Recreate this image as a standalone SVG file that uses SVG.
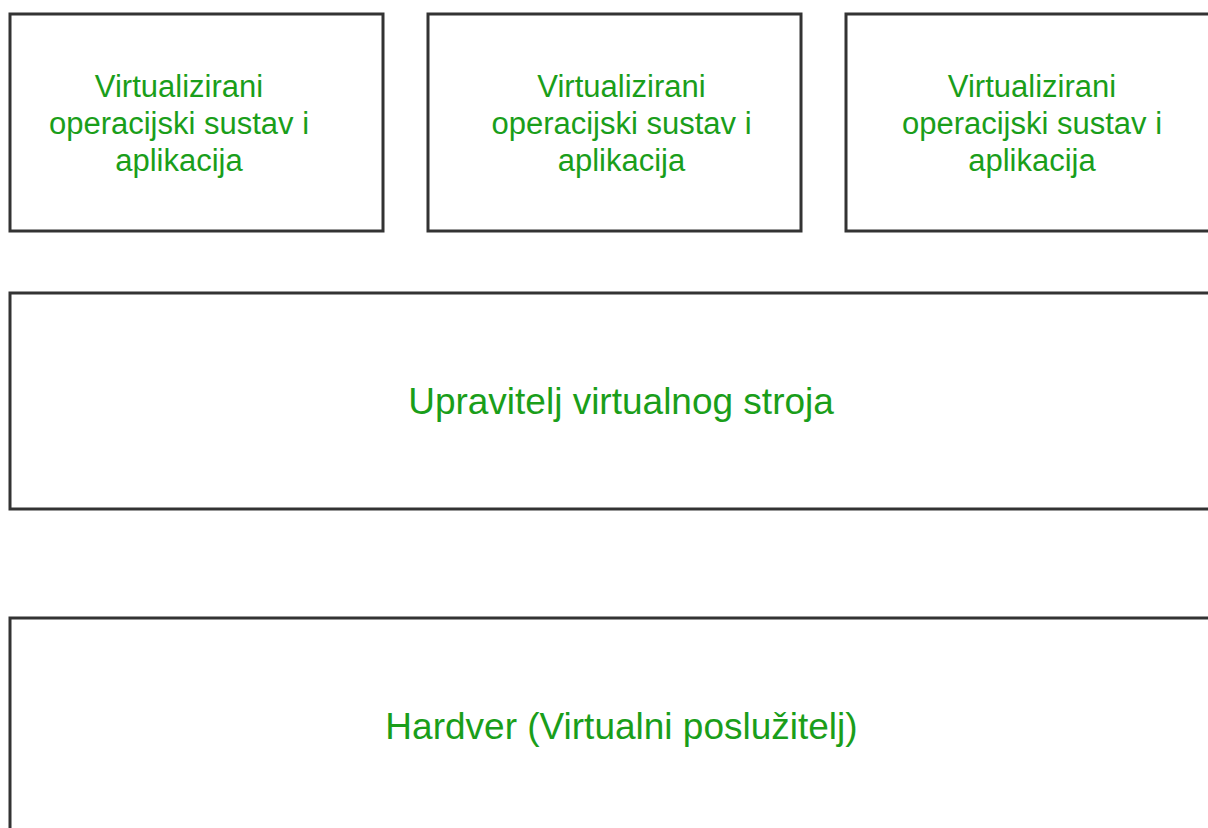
<svg xmlns="http://www.w3.org/2000/svg" width="1208" height="828" viewBox="0 0 1208 828">
<style>
.box{fill:#ffffff;stroke:#333333;stroke-width:3}
.lbl{font-family:"Liberation Sans",Arial,sans-serif;fill:#1a9e1a;text-anchor:middle}
.s{font-size:31px}
.l{font-size:37px}
</style>
<rect width="1208" height="828" fill="#ffffff"/>
<g id="vm1"><rect class="box" x="10" y="14" width="373" height="217"/>
<text class="lbl s" x="179" y="97">Virtualizirani</text>
<text class="lbl s" x="179" y="134">operacijski sustav i</text>
<text class="lbl s" x="179" y="171">aplikacija</text></g>
<g id="vm2"><rect class="box" x="428" y="14" width="373" height="217"/>
<text class="lbl s" x="621.5" y="97">Virtualizirani</text>
<text class="lbl s" x="621.5" y="134">operacijski sustav i</text>
<text class="lbl s" x="621.5" y="171">aplikacija</text></g>
<g id="vm3"><rect class="box" x="846" y="14" width="373" height="217"/>
<text class="lbl s" x="1032" y="97">Virtualizirani</text>
<text class="lbl s" x="1032" y="134">operacijski sustav i</text>
<text class="lbl s" x="1032" y="171">aplikacija</text></g>
<g id="hypervisor"><rect class="box" x="10" y="293" width="1222" height="216"/>
<text class="lbl l" x="621" y="414">Upravitelj virtualnog stroja</text></g>
<g id="hardware"><rect class="box" x="10" y="618" width="1222" height="230"/>
<text class="lbl l" x="621.5" y="739">Hardver (Virtualni poslužitelj)</text></g>
<g id="connectors"></g>
</svg>
